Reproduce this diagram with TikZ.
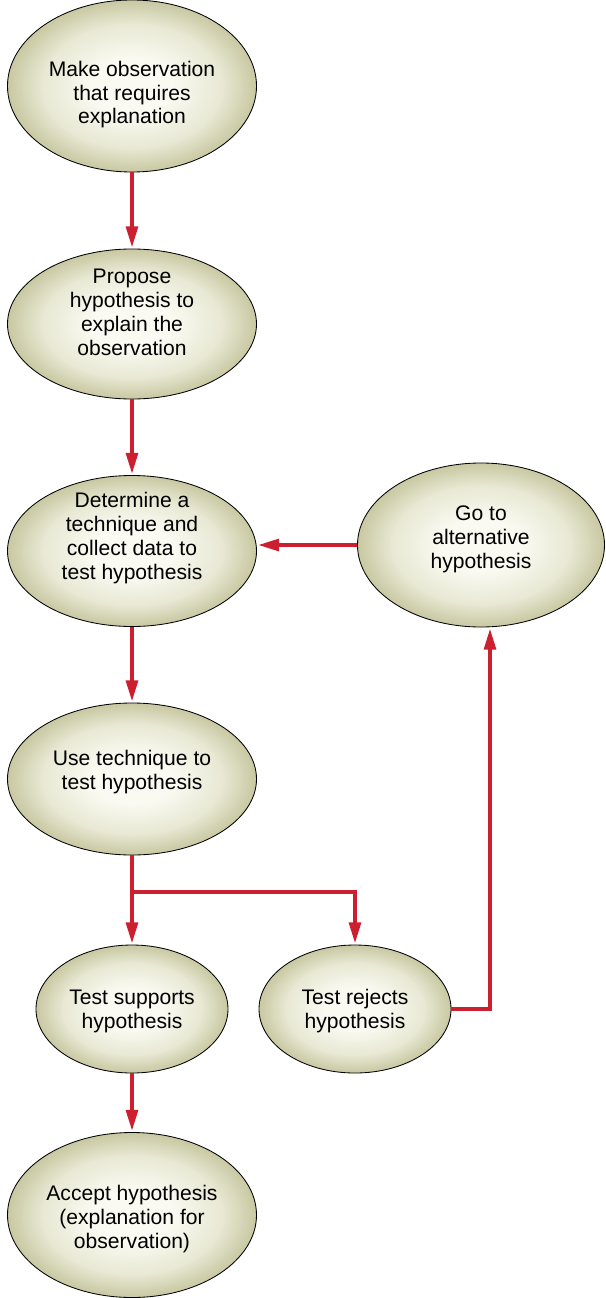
\documentclass[tikz,border=0pt]{standalone}
\usepackage{fontspec}
\setmainfont{Liberation Sans}
\usetikzlibrary{arrows.meta,shapes.geometric}

\definecolor{flowred}{RGB}{204,32,49}
\definecolor{olivein}{RGB}{250,250,242}
\definecolor{olivemid}{RGB}{232,232,212}
\definecolor{oliveout}{RGB}{200,200,162}
\pgfdeclareradialshading{olivefill}{\pgfpoint{0bp}{0bp}}{color(0bp)=(olivein); color(8bp)=(olivein); color(18bp)=(olivemid); color(25bp)=(oliveout); color(50bp)=(oliveout)}

\begin{document}
\begin{tikzpicture}[>={Triangle[length=0.52cm,width=0.3cm]},
  step box/.style={ellipse, draw=black, line width=0.6pt, inner sep=0pt,
    shading=olivefill, align=center, font=\fontsize{15}{17}\selectfont,
    minimum width=6.225cm, minimum height=3.8cm},
  small box/.style={step box, minimum width=4.8cm, minimum height=3.2cm},
  lift/.style={text depth=0pt, text height=#1},
  flow/.style={->, draw=flowred, line width=2.2pt, shorten >=1pt}]
\useasboundingbox (0,0) rectangle (15.125,-32.45);
\node[step box, minimum height=4.3cm, lift=1.9cm]    (obs) at (3.3,-2.15)  {Make observation\\that requires\\explanation};
\node[step box, minimum height=3.75cm, lift=1.55cm]  (hyp) at (3.3,-8.1)   {Propose\\hypothesis to\\explain the\\observation};
\node[step box, minimum height=3.775cm, lift=1.4cm] (tech) at (3.3,-13.775) {Determine a\\technique and\\collect data to\\test hypothesis};
\node[step box, minimum width=6.175cm, minimum height=4.1cm, lift=1.15cm] (alt) at (12.025,-13.625) {Go to\\alternative\\hypothesis};
\node[step box, lift=0.5cm] (use) at (3.3,-19.475) {Use technique to\\test hypothesis};
\node[small box, lift=0.95cm] (sup) at (3.3,-25.225)   {Test supports\\hypothesis};
\node[small box, lift=0.95cm] (rej) at (8.875,-25.225) {Test rejects\\hypothesis};
\node[step box, minimum height=4.125cm, lift=1.65cm] (acc) at (3.3,-30.375) {Accept hypothesis\\(explanation for\\observation)};
\coordinate (split) at (3.3,-22.3);
\coordinate (turn) at (12.25,-25.225);
\path[flow] (obs) -- (hyp);
\path[flow] (hyp) -- (tech);
\path[flow] (tech) -- (use);
\path[flow] (use) -- (sup);
\path[flow] (split) -| (rej.north);
\path[flow] (sup) -- (acc);
\path[flow] (rej.east) -- (turn) -- (turn |- alt.south);
\path[flow] (alt.west) -- (alt.west -| tech.east);
\end{tikzpicture}
\end{document}
